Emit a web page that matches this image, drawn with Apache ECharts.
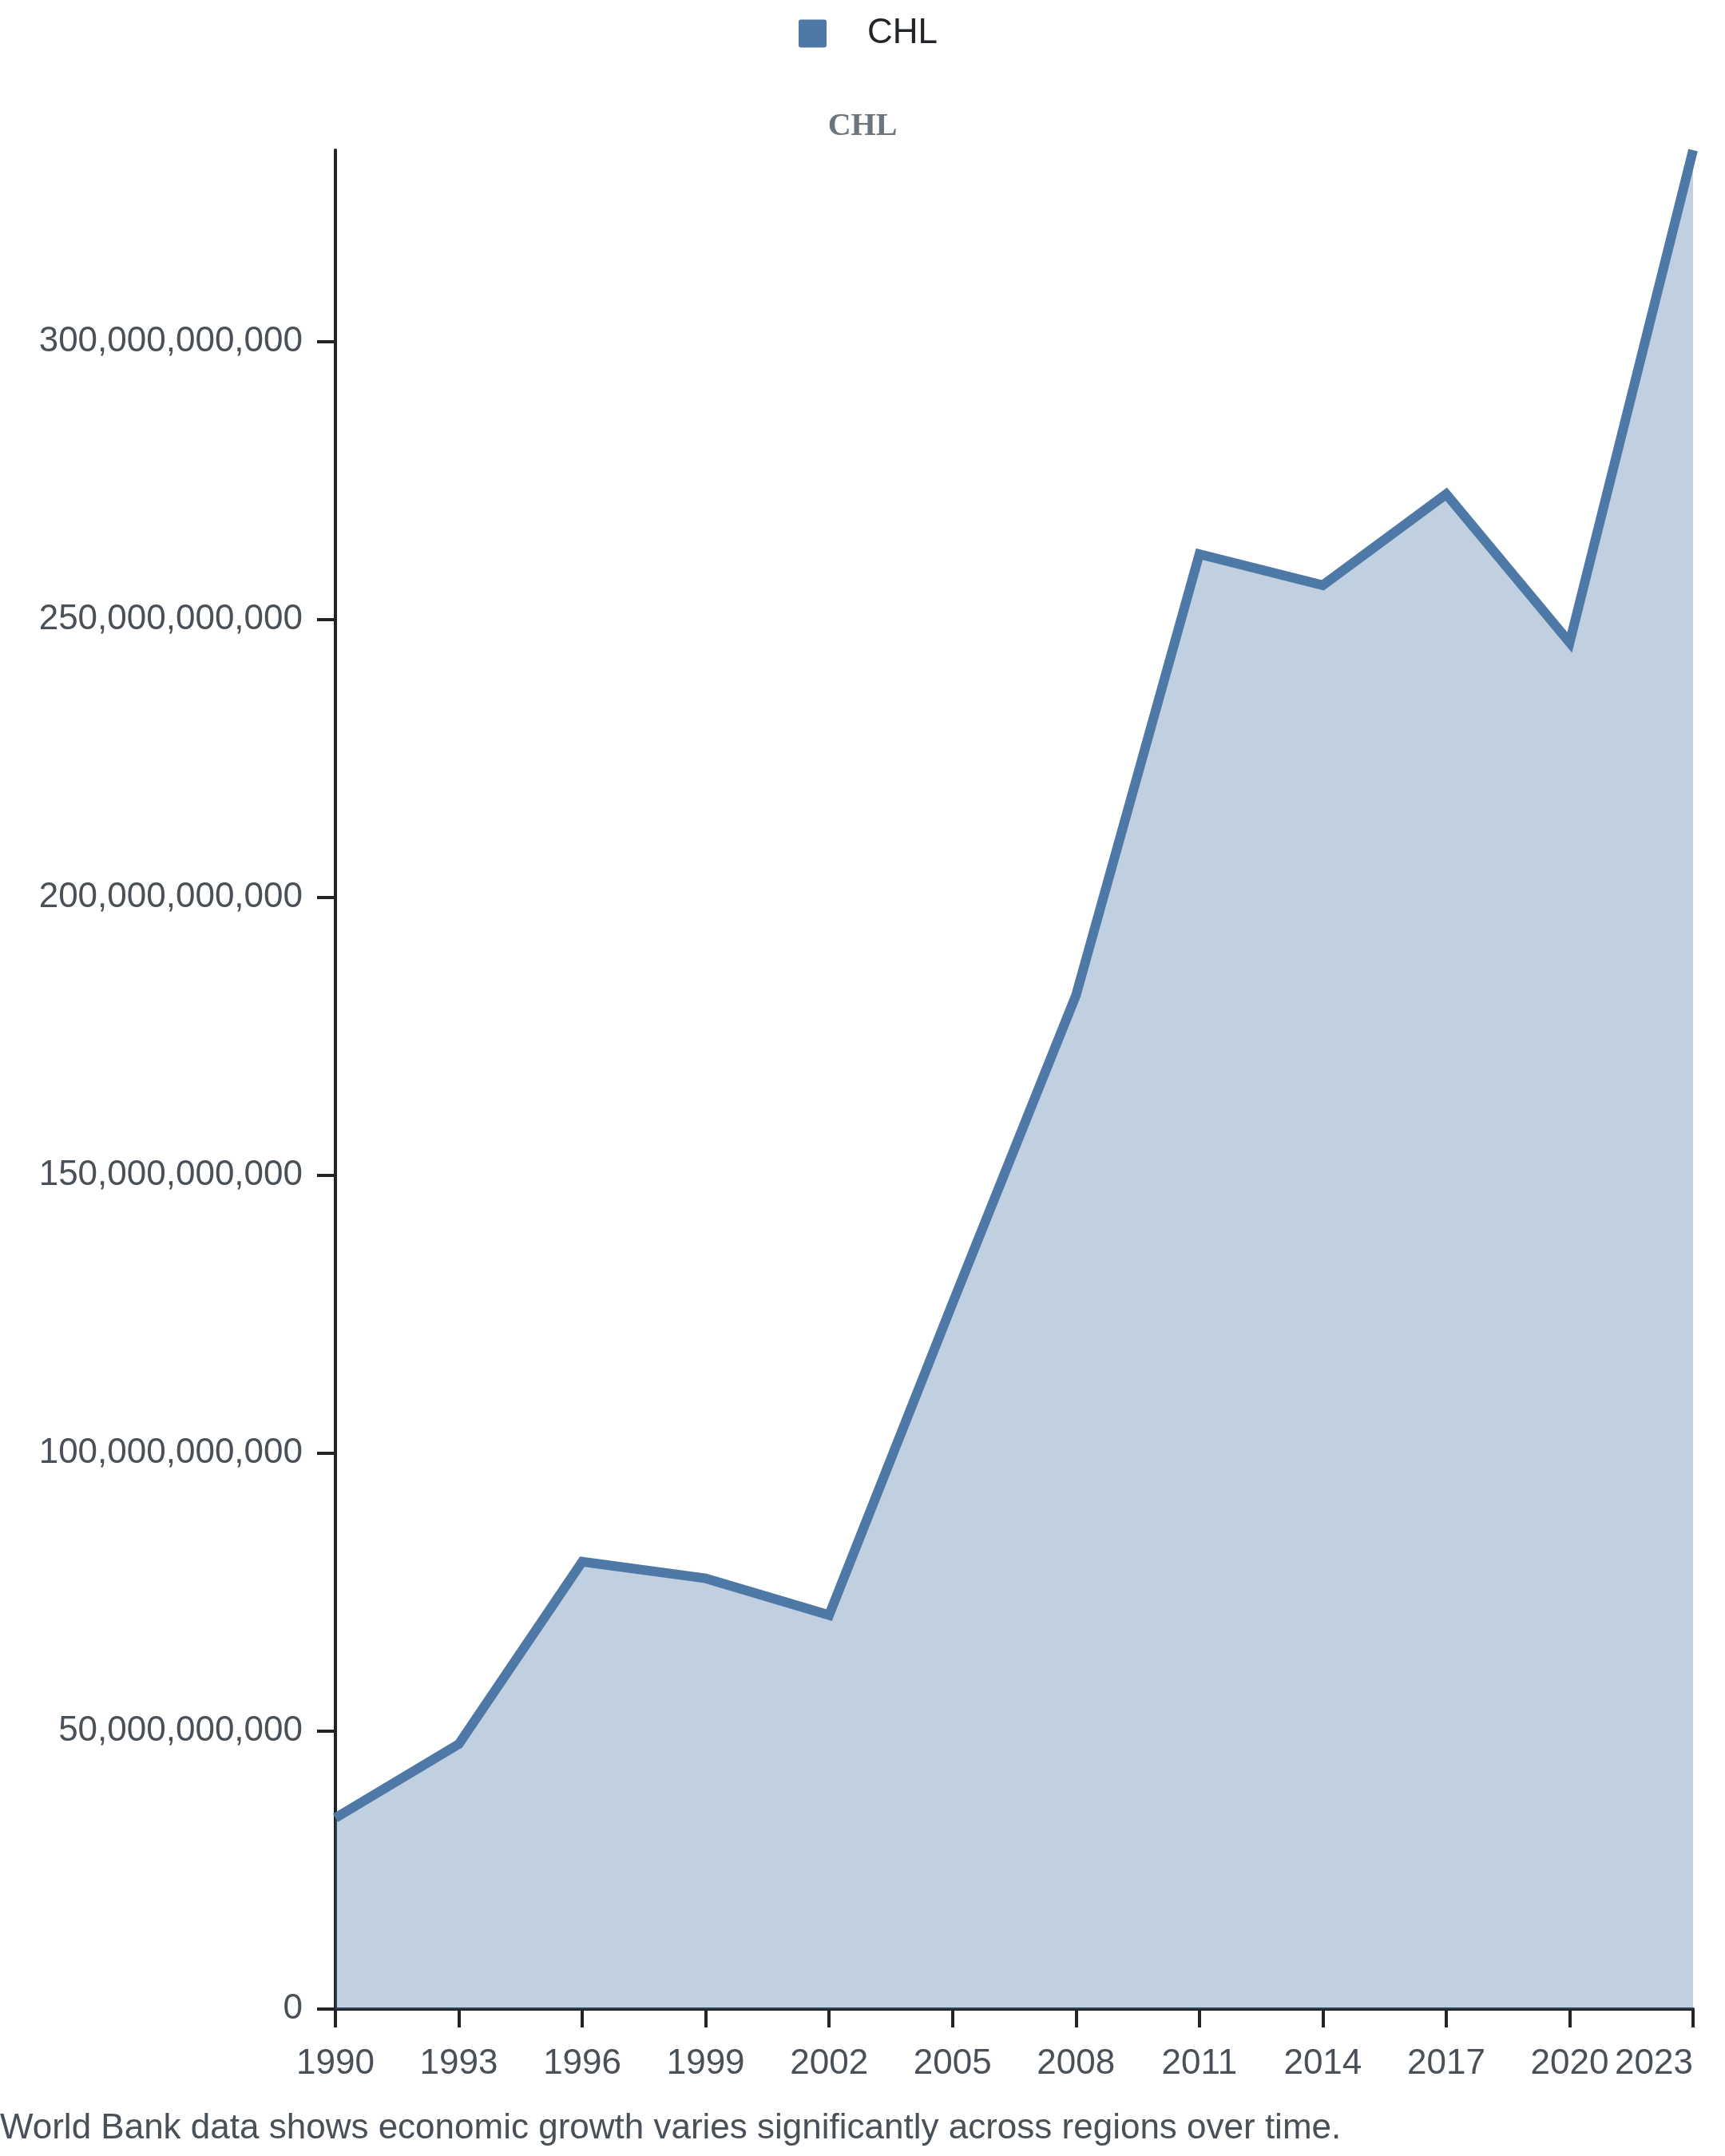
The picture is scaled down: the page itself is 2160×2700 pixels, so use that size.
<!DOCTYPE html>
<html>
<head>
<meta charset="utf-8">
<title>CHL</title>
<script src="https://cdn.jsdelivr.net/npm/echarts@6/dist/echarts.min.js"></script>
<style>
  html, body { margin: 0; padding: 0; background: #fff; }
  #chart { width: 2160px; height: 2700px; }
</style>
</head>
<body>
<div id="chart"></div>
<script>
// values (current US$)
const years = ['1990', '1993', '1996', '1999', '2002', '2005', '2008', '2011', '2014', '2017', '2020', '2023']
const gdpChl = [
  34.4e9, 47.7e9, 80.5e9, 77.5e9, 70.9e9, 127.0e9,
  182.4e9, 261.8e9, 256.2e9, 272.6e9, 245.9e9, 334.5e9
]
const yTicks = [0, 50e9, 100e9, 150e9, 200e9, 250e9, 300e9]
const seriesName = 'CHL'
const footnote = 'World Bank data shows economic growth varies significantly across regions over time.'

const blue = '#4e79a7'
const axisColor = '#212529'
const labelColor = '#495057'
const sans = '"Liberation Sans", Arial, sans-serif'

const chart = echarts.init(document.getElementById('chart'), null, { renderer: 'canvas' })

chart.setOption({
  animation: false,
  backgroundColor: '#fff',
  title: {
    text: seriesName,
    left: 'center',
    top: 134,
    textStyle: {
      fontFamily: '"Liberation Serif", "Times New Roman", serif',
      fontWeight: 'bold',
      fontSize: 40,
      color: '#6c757d'
    }
  },
  legend: {
    data: [seriesName],
    left: 1000,
    top: 20,
    padding: 0,
    itemWidth: 35,
    itemHeight: 35,
    // square with small rounded corners
    icon: 'path://M3,0H32Q35,0,35,3V32Q35,35,32,35H3Q0,35,0,32V3Q0,0,3,0Z',
    textStyle: {
      fontFamily: sans,
      fontSize: 44,
      color: axisColor,
      padding: [0, 0, 0, 46]
    }
  },
  grid: { left: 420, right: 40, top: 188, bottom: 184 },
  xAxis: {
    type: 'category',
    data: years,
    boundaryGap: false,
    axisLine: { lineStyle: { color: axisColor, width: 4 } },
    axisTick: { length: 23, lineStyle: { color: axisColor, width: 4 } },
    axisLabel: {
      fontFamily: sans,
      fontSize: 44,
      color: labelColor,
      margin: 47,
      alignMaxLabel: 'right'
    },
    splitLine: { show: false }
  },
  yAxis: {
    type: 'value',
    min: 0,
    max: 'dataMax',
    interval: 50e9,
    axisLine: { show: true, lineStyle: { color: axisColor, width: 4 } },
    axisTick: { show: true, length: 23, customValues: yTicks, lineStyle: { color: axisColor, width: 4 } },
    axisLabel: {
      customValues: yTicks,
      fontFamily: sans,
      fontSize: 44,
      color: labelColor,
      margin: 41,
      formatter: v => Number(v).toLocaleString('en-US')
    },
    splitLine: { show: false }
  },
  series: [{
    name: seriesName,
    type: 'line',
    data: gdpChl,
    showSymbol: false,
    clip: false,
    color: blue,
    lineStyle: { color: blue, width: 12, join: 'miter', cap: 'butt' },
    areaStyle: { color: blue, opacity: 0.35 }
  }],
  graphic: [{
    type: 'text',
    left: 0,
    top: 2644,
    style: {
      text: footnote,
      fontFamily: sans,
      fontSize: 44,
      fill: labelColor
    }
  }]
})
</script>
</body>
</html>
